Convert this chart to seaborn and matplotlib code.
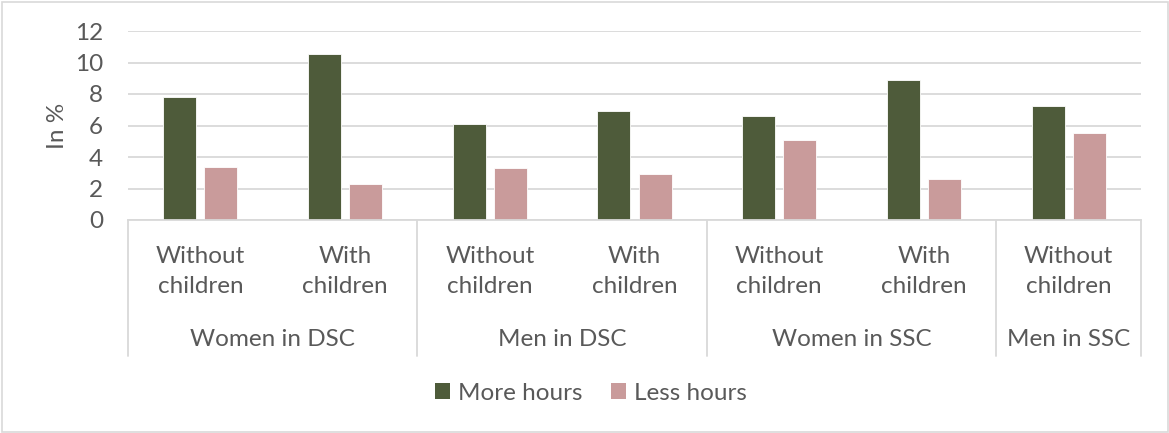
import matplotlib
matplotlib.use("Agg")
import matplotlib.pyplot as plt
import matplotlib.transforms as mtransforms
from matplotlib.patches import Rectangle
import seaborn as sns
import pandas as pd

groups = ["Women in DSC", "Women in DSC", "Men in DSC", "Men in DSC",
          "Women in SSC", "Women in SSC", "Men in SSC"]
subgroups = ["Without\nchildren", "With\nchildren", "Without\nchildren", "With\nchildren",
             "Without\nchildren", "With\nchildren", "Without\nchildren"]
more_hours = [7.8, 10.55, 6.08, 6.94, 6.62, 8.91, 7.22]
less_hours = [3.35, 2.3, 3.28, 2.9, 5.06, 2.6, 5.52]
series = ["More hours", "Less hours"]
colors = ["#4E5B3A", "#C99B9B"]

keys = [f"{g}|{s}" for g, s in zip(groups, subgroups)]
df = pd.DataFrame({
    "key": keys * 2,
    "value": more_hours + less_hours,
    "series": [series[0]] * len(keys) + [series[1]] * len(keys),
})

sns.set_theme(style="white")
plt.rcParams["font.family"] = ["Lato", "DejaVu Sans"]
text_color = "#595959"
grid_color = "#D9D9D9"
fs = 17.5

W, H = 1169, 433
fig = plt.figure(figsize=(W / 100, H / 100), dpi=100)
ax = fig.add_axes([128 / W, (H - 220) / H, (1141 - 128) / W, (220 - 31) / H])

sns.barplot(data=df, x="key", y="value", hue="series", order=keys,
            hue_order=series, palette=colors, saturation=1, width=0.567, gap=0.196,
            edgecolor="white", linewidth=0.6, ax=ax, legend=True)

ax.set_ylim(0, 12)
ax.set_xlim(-0.5, len(keys) - 0.5)
ax.set_yticks(range(0, 13, 2))
ax.yaxis.grid(True, color=grid_color, linewidth=1.3)
ax.set_axisbelow(True)
for sp in ["top", "right", "left"]:
    ax.spines[sp].set_visible(False)
ax.spines["bottom"].set_color(grid_color)
ax.spines["bottom"].set_linewidth(1.3)
ax.tick_params(axis="y", length=0, pad=18, labelsize=fs, labelcolor=text_color)
ax.tick_params(axis="x", length=0, pad=18.5, labelsize=fs, labelcolor=text_color)
ax.set_xticks(range(len(keys)))
ax.set_xticklabels(subgroups, linespacing=1.55)
ax.set_xlabel("")
ax.set_ylabel("In %", fontsize=fs, color=text_color, labelpad=5)

# group labels and separators
trans = mtransforms.blended_transform_factory(ax.transData, ax.transAxes)
ax_h = 220 - 31
y_group = (220 - 339) / ax_h
y_sep = (220 - 356) / ax_h
uniq = []
for i, g in enumerate(groups):
    if not uniq or uniq[-1][0] != g:
        uniq.append([g, i, i])
    else:
        uniq[-1][2] = i
bounds = [-0.5]
for g, a, b in uniq:
    ax.text((a + b) / 2, y_group, g, transform=trans, ha="center", va="center",
            fontsize=fs, color=text_color)
    bounds.append(b + 0.5)
for xb in bounds:
    ax.plot([xb, xb], [0, y_sep], transform=trans, color=grid_color,
            linewidth=1.3, clip_on=False)

leg = ax.legend(loc="center", bbox_to_anchor=(591 / W, (H - 393) / H),
                bbox_transform=fig.transFigure, ncol=2, frameon=False,
                fontsize=fs, handlelength=0.62, handleheight=0.62,
                handletextpad=0.3, columnspacing=1.2)
for t in leg.get_texts():
    t.set_color(text_color)
for h in leg.legend_handles:
    h.set_edgecolor("none")

fig.patches.append(Rectangle((1.5 / W, 1.5 / H), (W - 3) / W, (H - 3) / H,
                             transform=fig.transFigure, fill=False,
                             edgecolor=grid_color, linewidth=1.2))

fig.savefig("out.png", dpi=100)
